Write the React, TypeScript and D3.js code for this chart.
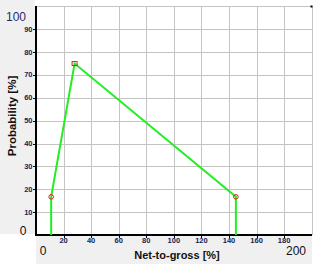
import React from "react";
import * as d3 from "d3";

const xTicks = [20, 40, 60, 80, 100, 120, 140, 160, 180];
const yTicks = [10, 20, 30, 40, 50, 60, 70, 80, 90];
const gridX = [20, 40, 60, 80, 100, 120, 140, 160, 180, 200];
const gridY = [10, 20, 30, 40, 50, 60, 70, 80, 90, 100];
const pathX = [11, 11, 28, 145, 145];
const pathY = [0, 16.7, 75, 16.7, 0];
const endX = [11, 145];
const endY = [16.7, 16.7];
const peakX = 28;
const peakY = 75;
const xTitle = "Net-to-gross [%]";
const yTitle = "Probability [%]";

export default function App() {
  const x = d3.scaleLinear().domain([0, 200]).range([36, 311.7]);
  const y = d3.scaleLinear().domain([0, 100]).range([235, 6.4]);
  const pts: [number, number][] = pathX.map((v, i) => [v, pathY[i]]);
  const line = d3
    .line<[number, number]>()
    .x((d) => x(d[0]))
    .y((d) => y(d[1]));
  const tickFont = "'Liberation Sans', Arial, sans-serif";
  const tickColor = "#1c1c50";
  return (
    <svg
      width={324}
      height={264}
      style={{ position: "absolute", left: 0, top: 0, background: "#fff" }}
    >
      <rect x={0} y={0} width={35} height={234} fill="#f0f0f0" />
      <rect x={36} y={236} width={276} height={28} fill="#f0f0f0" />
      <rect x={36} y={6} width={276} height={229} fill="#fff" />
      {gridX.map((v) => (
        <line key={"gx" + v} x1={Math.round(x(v)) + 0.5} x2={Math.round(x(v)) + 0.5} y1={6} y2={235} stroke="#c4c4c4" strokeWidth={1} />
      ))}
      {gridY.map((v) => (
        <line key={"gy" + v} x1={36} x2={312} y1={Math.round(y(v)) + 0.5} y2={Math.round(y(v)) + 0.5} stroke="#c4c4c4" strokeWidth={1} />
      ))}
      <rect x={310.5} y={5.5} width={2} height={2} fill="#000" />
      {yTicks.map((v) => (
        <g key={"yt" + v}>
          <line x1={33} x2={36} y1={Math.round(y(v)) + 0.5} y2={Math.round(y(v)) + 0.5} stroke="#000" strokeWidth={1} />
          <text x={32.5} y={y(v) + 2.5} textAnchor="end" fontFamily={tickFont} fontWeight="bold" fontSize={7.5} fill={tickColor}>
            {v}
          </text>
        </g>
      ))}
      {xTicks.map((v) => (
        <g key={"xt" + v}>
          <line x1={Math.round(x(v)) + 0.5} x2={Math.round(x(v)) + 0.5} y1={235} y2={238} stroke="#000" strokeWidth={1} />
          <text x={x(v)} y={243} textAnchor="middle" fontFamily={tickFont} fontWeight="bold" fontSize={7.5} fill={tickColor}>
            {v}
          </text>
        </g>
      ))}
      <text x={26} y={21} textAnchor="end" fontFamily={tickFont} fontSize={12} fill="#2a2a6a">
        100
      </text>
      <text x={23} y={235} textAnchor="middle" fontFamily={tickFont} fontSize={12} fill="#111">
        0
      </text>
      <text x={43} y={255} textAnchor="middle" fontFamily={tickFont} fontSize={12} fill="#111">
        0
      </text>
      <text x={306} y={255} textAnchor="end" fontFamily={tickFont} fontSize={12} fill="#111">
        200
      </text>
      <line x1={36} x2={36} y1={6} y2={236} stroke="#000" strokeWidth={2} />
      <line x1={35} x2={312} y1={235} y2={235} stroke="#000" strokeWidth={2} />
      <path d={line(pts) || ""} fill="none" stroke="#22ee22" strokeWidth={2} />
      {endX.map((v, i) => (
        <circle key={"c" + i} cx={x(v)} cy={y(endY[i])} r={2.3} fill="none" stroke="#e02020" strokeWidth={1} />
      ))}
      <rect x={x(peakX) - 2.5} y={y(peakY) - 2} width={5} height={4} fill="none" stroke="#e02020" strokeWidth={1} />
      <text x={177} y={259} textAnchor="middle" fontFamily={tickFont} fontWeight="bold" fontSize={11} fill="#111">
        {xTitle}
      </text>
      <text transform={`translate(16,116) rotate(-90)`} textAnchor="middle" fontFamily={tickFont} fontWeight="bold" fontSize={11.5} fill="#111">
        {yTitle}
      </text>
    </svg>
  );
}
